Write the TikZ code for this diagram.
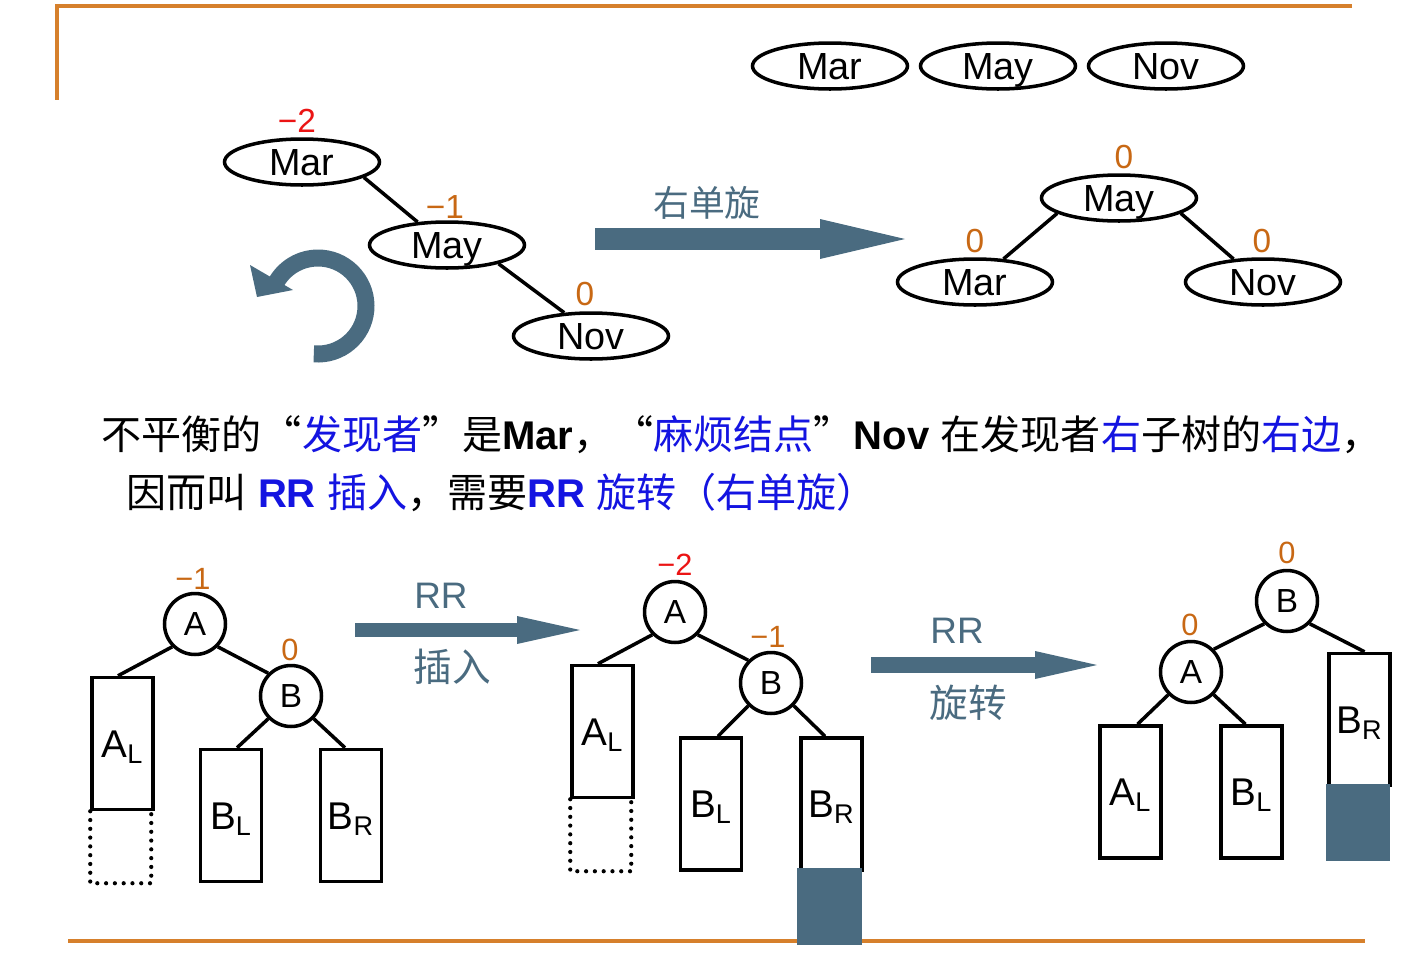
\documentclass[tikz,border=0pt]{standalone}
\usepackage{fontspec}
\setmainfont{Liberation Sans}
\newfontfamily\cjk{Noto Sans CJK SC}
\usetikzlibrary{shapes.geometric,arrows.meta}

\definecolor{frameorange}{RGB}{214,128,44}
\definecolor{slate}{RGB}{74,107,128}
\definecolor{bforange}{RGB}{200,104,20}
\definecolor{bfred}{RGB}{235,20,20}
\definecolor{hiblue}{RGB}{20,20,225}

\newcommand{\keyfont}{\fontsize{21.5pt}{24pt}\selectfont}
\newcommand{\treefont}{\fontsize{22pt}{26pt}\selectfont}
\newcommand{\circfont}{\fontsize{19pt}{22pt}\selectfont}
\newcommand{\balfont}{\fontsize{19pt}{22pt}\selectfont}
\newcommand{\sbalfont}{\fontsize{17.5pt}{20pt}\selectfont}
\newcommand{\zh}[1]{{\cjk #1}}
\newcommand{\zhb}[1]{{\cjk\color{hiblue}#1}}

\begin{document}
\begin{tikzpicture}[x=0.02cm, y=-0.02cm, line width=2pt,
    keynode/.style={ellipse, draw, minimum width=3.1cm, minimum height=0.92cm, inner sep=0pt,
      font=\keyfont, text height=15.4pt, text depth=0pt},
    avl/.style={circle, draw, minimum size=1.22cm, inner sep=0pt, font=\circfont},
    subtree/.style={rectangle, draw, minimum width=1.22cm, minimum height=2.64cm, inner sep=0pt,
      font=\treefont, text height=15.8pt, text depth=0pt},
    bal/.style={inner sep=0pt, text=bforange, font=\balfont},
    sbal/.style={inner sep=0pt, text=bforange, font=\sbalfont},
    missing/.style={line width=2.4pt, line cap=round, dash pattern=on 0pt off 5pt},
    grown/.style={draw=slate, fill=slate},
    steplabel/.style={inner sep=0pt, text=slate},
    says/.style={anchor=west, inner sep=0pt, font=\fontsize{22.8pt}{27pt}\selectfont}]
    \useasboundingbox (0,0) rectangle (1418,954);

    % frame
    \draw[frameorange] (1352,6) -- (57,6) -- (57,100);
    \draw[frameorange] (68,941) -- (1365,941);

    % keys in order of insertion
    \node[keynode] (mar0) at (830,66) {Mar};
    \node[keynode] (may0) at (998,66) {May};
    \node[keynode] (nov0) at (1166,66) {Nov};

    % before rotation
    \node[keynode] (mar1) at (302,162) {Mar};
    \node[keynode] (may1) at (447,245) {May};
    \node[keynode] (nov1) at (591,336) {Nov};
    \node[bal, text=bfred] (bmar1) at (297,121) {−2};
    \node[bal] (bmay1) at (445,207) {−1};
    \node[bal] (bnov1) at (585,294) {0};
    \draw (mar1.-14) -- (may1.142);
    \draw (may1.-20) -- (nov1.139);

    % turning arrow
    \draw[slate, line width=0.34cm] (318,306) ++(95:48) arc[start angle=95, end angle=-150, radius=48];
    \fill[slate] (250,265) -- (257,297) -- (293,290) -- cycle;

    % right single rotation
    \draw[slate, line width=0.44cm, -{Triangle[length=1.7cm, width=0.8cm, line width=0pt]}] (595,239) -- (905,239);
    \node[steplabel, font=\cjk\fontsize{20.4pt}{24pt}\selectfont] (rot) at (707,203) {右单旋};

    % after rotation
    \node[keynode] (may2) at (1119,198) {May};
    \node[keynode] (mar2) at (975,282) {Mar};
    \node[keynode] (nov2) at (1263,282) {Nov};
    \node[bal] (bmay2) at (1124,157) {0};
    \node[bal] (bmar2) at (975,241) {0};
    \node[bal] (bnov2) at (1262,241) {0};
    \draw (may2.-166) -- (mar2.39);
    \draw (may2.-14) -- (nov2.142);

    % explanation
    \node[says] (line1) at (100,435)
      {\zh{不平衡的“}\zhb{发现者}\zh{”是}\textbf{Mar}\zh{，“}\zhb{麻烦结点}\zh{”}\textbf{Nov} \zh{在发现者}\zhb{右}\zh{子树的}\zhb{右边}\zh{，}};
    \node[says] (line2) at (125,492)
      {\zh{因而叫} {\color{hiblue}\textbf{RR} \zh{插入}}\zh{，需要}{\color{hiblue}\textbf{RR} \zh{旋转（右单旋）}}};

    % general case: before insertion
    \node[avl] (a1) at (195,624) {A};
    \node[avl] (b1) at (291,696) {B};
    \node[sbal] (ba1) at (193,579) {−1};
    \node[sbal] (bb1) at (290,650) {0};
    \node[subtree] (al1) at (122.5,743.5) {A\textsubscript{L}};
    \node[subtree] (bl1) at (231,815.5) {B\textsubscript{L}};
    \node[subtree] (br1) at (351,815.5) {B\textsubscript{R}};
    \draw[missing] (al1.south west) -- ++(0,72) -- ++(61,0) -- ++(0,-72);
    \draw (a1.225) -- ([xshift=-0.09cm]al1.north);
    \draw (a1.-45) -- (b1.135);
    \draw (b1.225) -- ([xshift=0.12cm]bl1.north);
    \draw (b1.-45) -- ([xshift=-0.12cm]br1.north);

    \draw[slate, line width=0.28cm, -{Triangle[length=1.26cm, width=0.56cm, line width=0pt]}] (355,630) -- (580,630);
    \node[steplabel, font=\fontsize{21pt}{24pt}\selectfont] (rr1) at (441,596) {RR};
    \node[steplabel, font=\cjk\fontsize{22pt}{26pt}\selectfont] (ins) at (452,667) {插入};

    % after insertion
    \node[avl] (a2) at (675,612) {A};
    \node[avl] (b2) at (771,683) {B};
    \node[sbal, text=bfred] (ba2) at (675,565) {−2};
    \node[sbal] (bb2) at (768,637) {−1};
    \node[subtree] (al2) at (602.5,731.5) {A\textsubscript{L}};
    \node[subtree] (bl2) at (711,804) {B\textsubscript{L}};
    \node[subtree] (br2) at (831.5,804) {B\textsubscript{R}};
    \draw[missing] (al2.south west) -- ++(0,72) -- ++(61,0) -- ++(0,-72);
    \draw[grown] ([yshift=0.03cm]br2.south west) rectangle ++(61,73);
    \draw (a2.225) -- ([xshift=-0.09cm]al2.north);
    \draw (a2.-45) -- (b2.135);
    \draw (b2.225) -- ([xshift=0.14cm]bl2.north);
    \draw (b2.-45) -- ([xshift=-0.13cm]br2.north);

    \draw[slate, line width=0.32cm, -{Triangle[length=1.24cm, width=0.56cm, line width=0pt]}] (871,665) -- (1097,665);
    \node[steplabel, font=\fontsize{21pt}{24pt}\selectfont] (rr2) at (957,631) {RR};
    \node[steplabel, font=\cjk\fontsize{22pt}{26pt}\selectfont] (turn) at (968,703) {旋转};

    % after rotation
    \node[avl] (b3) at (1287,601) {B};
    \node[avl] (a3) at (1191,672) {A};
    \node[sbal] (bb3) at (1287,553) {0};
    \node[sbal] (ba3) at (1190,625) {0};
    \node[subtree] (al3) at (1130.5,792) {A\textsubscript{L}};
    \node[subtree] (bl3) at (1251.5,792) {B\textsubscript{L}};
    \node[subtree] (br3) at (1359.5,719.5) {B\textsubscript{R}};
    \draw[grown] ([yshift=0.03cm]br3.south west) rectangle ++(61,73);
    \draw (b3.225) -- (a3.45);
    \draw (b3.-45) -- ([xshift=0.1cm]br3.north);
    \draw (a3.225) -- ([xshift=0.14cm]al3.north);
    \draw (a3.-45) -- ([xshift=-0.12cm]bl3.north);
\end{tikzpicture}
\end{document}
